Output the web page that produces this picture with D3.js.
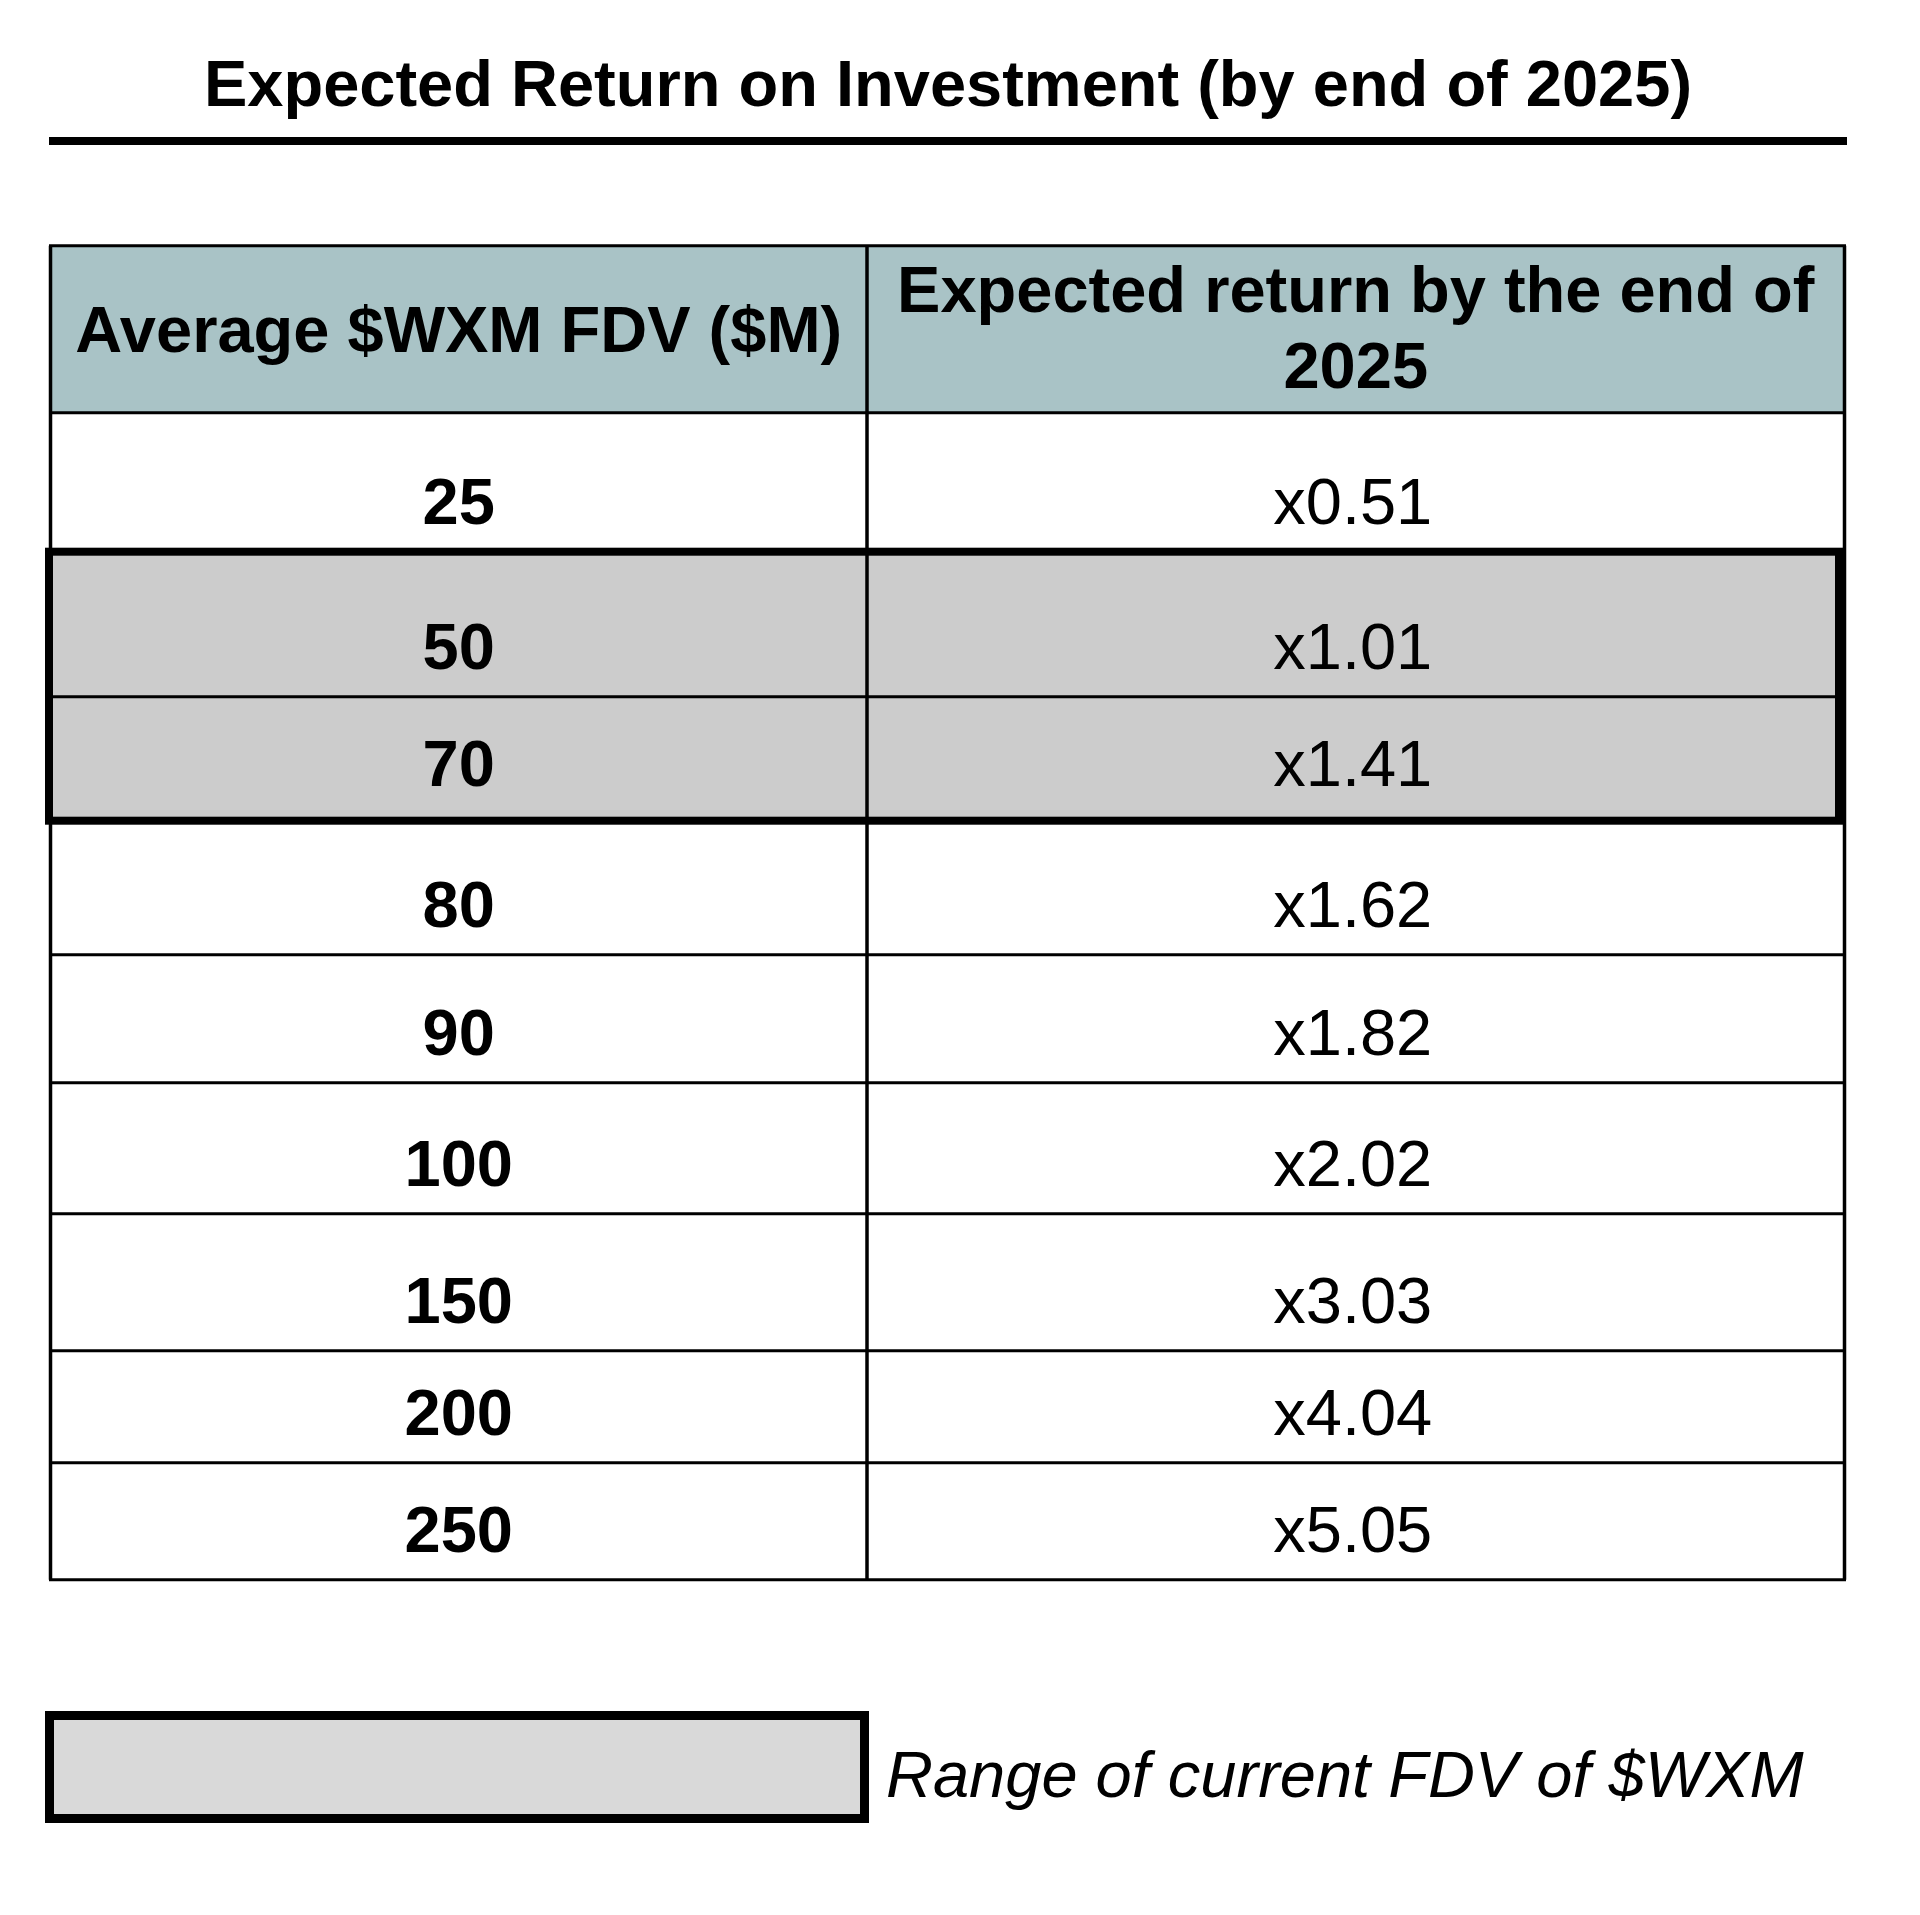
<!DOCTYPE html>
<html>
<head>
<meta charset="utf-8">
<script src="https://cdn.jsdelivr.net/npm/d3@7"></script>
<style>
  body { margin: 0; background: #fff; }
  text { font-family: "Liberation Sans", Arial, Helvetica, sans-serif; fill: #000; }
</style>
</head>
<body>
<div id="roi-table"></div>
<script>

// table content
const chartTitle = "Expected Return on Investment (by end of 2025)";
const headerFdv = ["Average $WXM FDV ($M)"];
const headerReturn = ["Expected return by the end of", "2025"];
const fdvValues = [25, 50, 70, 80, 90, 100, 150, 200, 250];
const returnMultiples = [0.51, 1.01, 1.41, 1.62, 1.82, 2.02, 3.03, 4.04, 5.05];
const currentRange = [50, 70];
const legendLabel = "Range of current FDV of $WXM";

// layout (rows in the source are not evenly sized)
const rowHeights = [139, 145, 124, 134, 128, 131, 137, 112, 117];
const colEdges = [50.5, 867, 1844.5];
const tableTop = 245.7, headerBottom = 412.7;

const width = 1920, height = 1915;
const fontSize = 65;

const svg = d3.select("#roi-table").append("svg")
    .attr("width", width)
    .attr("height", height);

svg.append("rect").attr("width", width).attr("height", height).attr("fill", "#fff");

// rows -> y positions
let rows = fdvValues.map((v, i) => ({ fdv: v, ret: returnMultiples[i], h: rowHeights[i] }));
let acc = headerBottom;
rows.forEach(d => { d.y0 = acc; acc += d.h; d.y1 = acc; });
const tableBottom = acc;

const y = d3.scaleOrdinal().domain(fdvValues).range(rows.map(d => d.y0));
const colCenter = i => (colEdges[i] + colEdges[i + 1]) / 2;
const fmtRet = d => "x" + d3.format(".2f")(d);
// last row of the framed range sits a bit higher above the thick border
const textY = d => y(d.fdv) + d.h - (d.fdv === currentRange[1] ? 35 : 28);

// title
svg.append("text")
    .attr("x", 948)
    .attr("y", 106)
    .attr("text-anchor", "middle")
    .style("font-size", fontSize + "px")
    .style("font-weight", "bold")
    .text(chartTitle);

svg.append("line")
    .attr("x1", 49).attr("x2", 1847)
    .attr("y1", 141).attr("y2", 141)
    .attr("stroke", "#000")
    .attr("stroke-width", 8);

// header background
svg.append("rect")
    .attr("x", colEdges[0]).attr("y", tableTop)
    .attr("width", colEdges[2] - colEdges[0])
    .attr("height", headerBottom - tableTop)
    .attr("fill", "#a9c3c6");

// highlighted rows
const hiRows = rows.filter(d => d.fdv >= currentRange[0] && d.fdv <= currentRange[1]);
svg.selectAll(".hi-row")
    .data(hiRows)
    .enter().append("rect")
    .attr("class", "hi-row")
    .attr("x", colEdges[0])
    .attr("y", d => y(d.fdv))
    .attr("width", colEdges[2] - colEdges[0])
    .attr("height", d => d.h)
    .attr("fill", "#cccccc");

// grid lines
const hLines = [tableTop, headerBottom].concat(rows.map(d => d.y1));
svg.selectAll(".h-line")
    .data(hLines)
    .enter().append("line")
    .attr("class", "h-line")
    .attr("x1", colEdges[0] - 1.5).attr("x2", colEdges[2] + 1.5)
    .attr("y1", d => d).attr("y2", d => d)
    .attr("stroke", "#000")
    .attr("stroke-width", 3);

svg.selectAll(".v-line")
    .data(colEdges)
    .enter().append("line")
    .attr("class", "v-line")
    .attr("x1", d => d).attr("x2", d => d)
    .attr("y1", tableTop).attr("y2", tableBottom)
    .attr("stroke", "#000")
    .attr("stroke-width", 3.5);

// thick frame around current range
const hiTop = d3.min(hiRows, d => d.y0), hiBottom = d3.max(hiRows, d => d.y1);
svg.append("rect")
    .attr("x", 49).attr("y", hiTop)
    .attr("width", 1839 - 49)
    .attr("height", hiBottom - hiTop)
    .attr("fill", "none")
    .attr("stroke", "#000")
    .attr("stroke-width", 8);

// header text
svg.append("text")
    .attr("x", colCenter(0))
    .attr("y", 352)
    .attr("text-anchor", "middle")
    .style("font-size", fontSize + "px")
    .style("font-weight", "bold")
    .text(headerFdv[0]);

svg.append("text")
    .attr("text-anchor", "middle")
    .style("font-size", fontSize + "px")
    .style("font-weight", "bold")
    .selectAll("tspan")
    .data(headerReturn)
    .enter().append("tspan")
    .attr("x", colCenter(1))
    .attr("y", (d, i) => 311.5 + i * 76.5)
    .text(d => d);

// cell text
svg.selectAll(".fdv-label")
    .data(rows)
    .enter().append("text")
    .attr("class", "fdv-label")
    .attr("x", colCenter(0))
    .attr("y", textY)
    .attr("text-anchor", "middle")
    .style("font-size", fontSize + "px")
    .style("font-weight", "bold")
    .text(d => d.fdv);

svg.selectAll(".ret-label")
    .data(rows)
    .enter().append("text")
    .attr("class", "ret-label")
    .attr("x", colCenter(1) - 3)
    .attr("y", textY)
    .attr("text-anchor", "middle")
    .style("font-size", fontSize + "px")
    .text(d => fmtRet(d.ret));

// legend
svg.append("rect")
    .attr("x", 49.5).attr("y", 1715.5)
    .attr("width", 815).attr("height", 103)
    .attr("fill", "#d9d9d9")
    .attr("stroke", "#000")
    .attr("stroke-width", 9);

svg.append("text")
    .attr("x", 886)
    .attr("y", 1797)
    .style("font-size", fontSize + "px")
    .style("font-style", "italic")
    .text(legendLabel);

</script>
</body>
</html>
